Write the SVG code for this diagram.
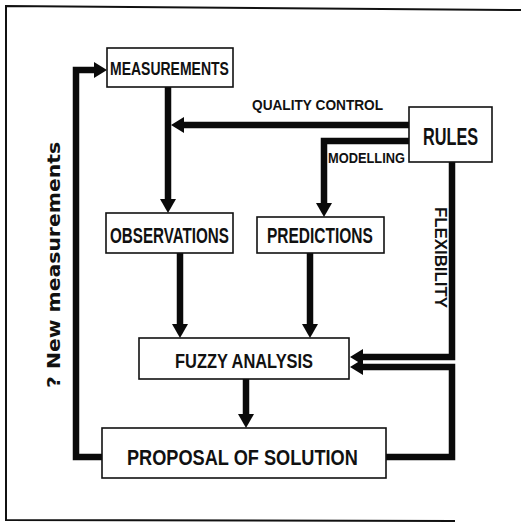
<svg xmlns="http://www.w3.org/2000/svg" width="521" height="523" viewBox="0 0 521 523">
  <style>
    .box { fill: #fff; stroke: #111; stroke-width: 1.6; }
    .lbl { font-family: "Liberation Sans", Arial, sans-serif; font-weight: bold; fill: #111; }
    .wide { font-family: "DejaVu Sans", Verdana, sans-serif; font-weight: bold; fill: #111; }
    .wire { fill: none; stroke: #0a0a0a; stroke-width: 6.5; stroke-linejoin: miter; stroke-linecap: butt; }
    .head { fill: #0a0a0a; }
  </style>
  <rect width="521" height="523" fill="#fff"/>
  <!-- page frame -->
  <polyline points="521,10 6,6 6,520 455,521" fill="none" stroke="#111" stroke-width="2"/>

  <g id="connectors">
    <!-- proposal back to measurements -->
    <polyline class="wire" points="102,457 76,457 76,70 96,70"/>
    <polygon class="head" points="107,70 94,62 94,78"/>
    <!-- measurements to observations -->
    <polyline class="wire" points="168,87 168,200"/>
    <polygon class="head" points="168,213 160,199 176,199"/>
    <!-- quality control -->
    <polyline class="wire" points="409,125 182,125"/>
    <polygon class="head" points="171,125 184,117 184,133"/>
    <!-- modelling -->
    <polyline class="wire" points="409,141 324,141 324,204"/>
    <polygon class="head" points="324,217 316,203 332,203"/>
    <!-- flexibility -->
    <polyline class="wire" points="452,162 452,357 362,357"/>
    <polygon class="head" points="350,357 363,349 363,365"/>
    <!-- observations / predictions to fuzzy analysis -->
    <polyline class="wire" points="180,253 180,325"/>
    <polygon class="head" points="180,338 172,324 188,324"/>
    <polyline class="wire" points="310,253 310,325"/>
    <polygon class="head" points="310,338 302,324 318,324"/>
    <!-- fuzzy analysis to proposal -->
    <polyline class="wire" points="246,379 246,415"/>
    <polygon class="head" points="246,428 238,414 254,414"/>
    <!-- proposal feedback to fuzzy analysis -->
    <polyline class="wire" points="386,457 452,457 452,367 362,367"/>
    <polygon class="head" points="350,367 363,359 363,375"/>
  </g>

  <!-- box labels use a horizontally condensed bold sans -->
  <g id="measurements">
    <rect class="box" x="107" y="48" width="126" height="39"/>
    <text class="lbl" font-size="18.5" transform="translate(110,75) scale(0.757,1)" textLength="157" lengthAdjust="spacingAndGlyphs">MEASUREMENTS</text>
  </g>
  <g id="observations">
    <rect class="box" x="106" y="213" width="127" height="40"/>
    <text class="lbl" font-size="22" transform="translate(110,243) scale(0.676,1)" textLength="176" lengthAdjust="spacingAndGlyphs">OBSERVATIONS</text>
  </g>
  <g id="predictions">
    <rect class="box" x="257" y="217" width="127" height="36"/>
    <text class="lbl" font-size="22" transform="translate(267,243) scale(0.706,1)" textLength="150" lengthAdjust="spacingAndGlyphs">PREDICTIONS</text>
  </g>
  <g id="rules">
    <rect class="box" x="409" y="107" width="83" height="55"/>
    <text class="lbl" font-size="24" transform="translate(423,145) scale(0.68,1)" textLength="81" lengthAdjust="spacingAndGlyphs">RULES</text>
  </g>
  <g id="fuzzy-analysis">
    <rect class="box" x="139" y="338" width="210" height="41"/>
    <text class="lbl" font-size="21" transform="translate(175,368) scale(0.767,1)" textLength="180" lengthAdjust="spacingAndGlyphs">FUZZY ANALYSIS</text>
  </g>
  <g id="proposal">
    <rect class="box" x="102" y="428" width="284" height="50"/>
    <text class="lbl" font-size="22.5" transform="translate(127,465) scale(0.807,1)" textLength="286" lengthAdjust="spacingAndGlyphs">PROPOSAL OF SOLUTION</text>
  </g>

  <g id="edge-labels">
    <text class="lbl" font-size="14" transform="translate(252,110) scale(0.95,1)" textLength="138" lengthAdjust="spacingAndGlyphs">QUALITY  CONTROL</text>
    <text class="lbl" font-size="15" transform="translate(328,163) scale(0.855,1)" textLength="90" lengthAdjust="spacingAndGlyphs">MODELLING</text>
    <text class="lbl" font-size="16" textLength="101" lengthAdjust="spacingAndGlyphs" transform="translate(435,207) rotate(90)">FLEXIBILITY</text>
    <text class="wide" font-size="18" textLength="246" lengthAdjust="spacingAndGlyphs" transform="translate(60,388) rotate(-90)">? New measurements</text>
  </g>
</svg>
